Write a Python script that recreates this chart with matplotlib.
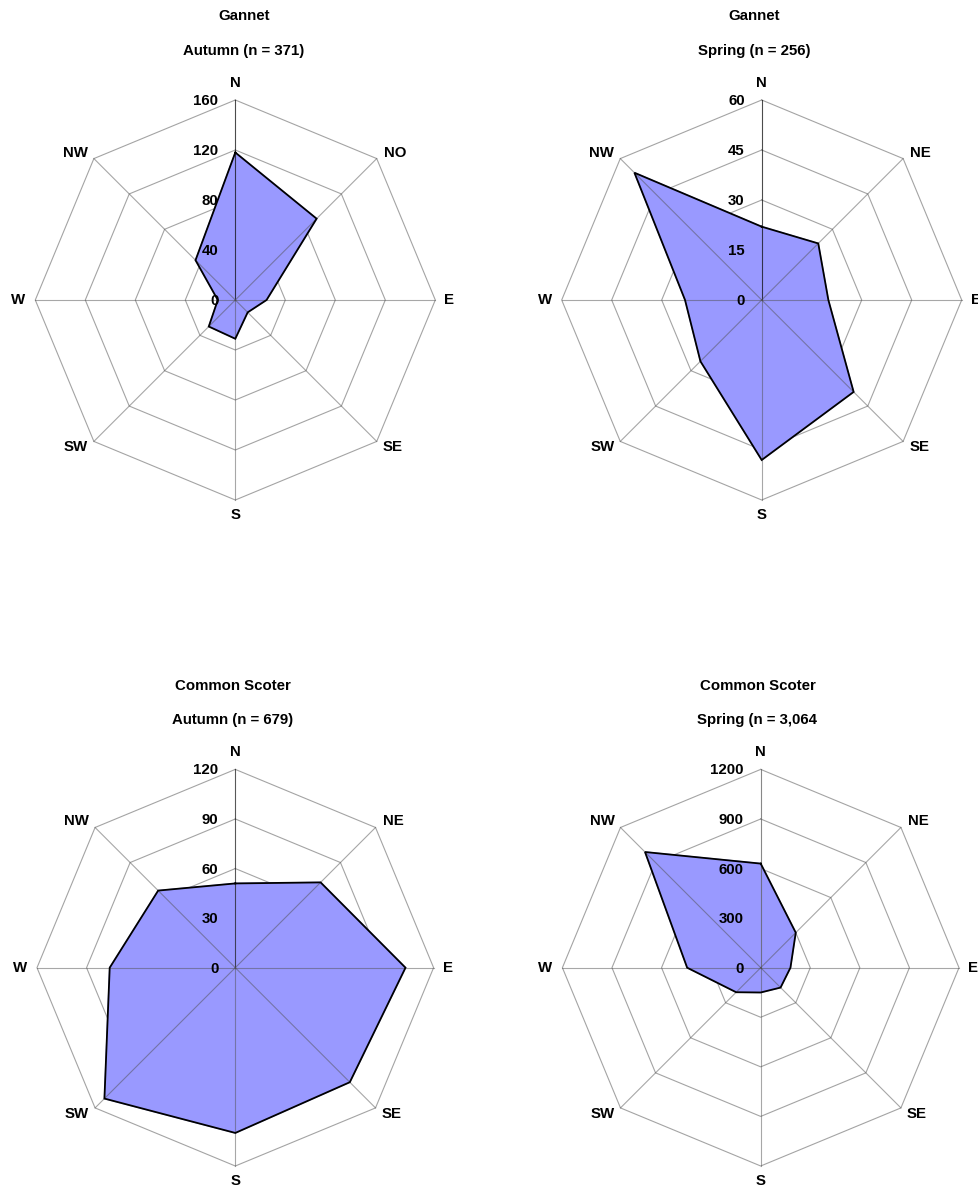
import numpy as np
import matplotlib
matplotlib.use("Agg")
import matplotlib.pyplot as plt

plt.rcParams['font.family'] = ['Liberation Sans', 'DejaVu Sans']

# Compass directions, clockwise from north
directions = ["N", "NE", "E", "SE", "S", "SW", "W", "NW"]
directions_gannet_autumn = ["N", "NO", "E", "SE", "S", "SW", "W", "NW"]

# Counts of birds per flight direction
gannet_autumn = [118, 92, 25, 14, 31, 30, 14, 45]
gannet_spring = [22, 24, 20, 39, 48, 26, 23, 54]
scoter_autumn = [51, 73, 103, 98, 100, 112, 76, 66]
scoter_spring = [630, 300, 180, 170, 150, 210, 445, 990]

# Radial scale ticks
ticks_gannet_autumn = [0, 40, 80, 120, 160]
ticks_gannet_spring = [0, 15, 30, 45, 60]
ticks_scoter_autumn = [0, 30, 60, 90, 120]
ticks_scoter_spring = [0, 300, 600, 900, 1200]

species = ["Gannet", "Gannet", "Common Scoter", "Common Scoter"]
seasons = ["Autumn (n = 371)", "Spring (n = 256)", "Autumn (n = 679)", "Spring (n = 3,064"]

W, H = 979, 1196
fig = plt.figure(figsize=(W / 100, H / 100), dpi=100)

panels = [
    dict(values=gannet_autumn, ticks=ticks_gannet_autumn, labels=directions_gannet_autumn,
         center=(235.3, 300.0), radius=200.0, title_x=244, title_y=(16, 51), axis_color="#101010"),
    dict(values=gannet_spring, ticks=ticks_gannet_spring, labels=directions,
         center=(761.7, 300.0), radius=200.0, title_x=754, title_y=(16, 51), axis_color="#101010"),
    dict(values=scoter_autumn, ticks=ticks_scoter_autumn, labels=directions,
         center=(235.3, 967.7), radius=198.3, title_x=232.5, title_y=(686, 720), axis_color="#202020"),
    dict(values=scoter_spring, ticks=ticks_scoter_spring, labels=directions,
         center=(760.7, 967.7), radius=198.3, title_x=757.5, title_y=(686, 720), axis_color="#606060"),
]

# Label offsets (pixels) from each outer vertex and their alignment
label_layout = [
    ((0, 17), "center", "center"),
    ((7, 6), "left", "center"),
    ((9, 0), "left", "center"),
    ((6, -6), "left", "center"),
    ((0, -15), "center", "center"),
    ((-6, -6), "right", "center"),
    ((-10, 0), "right", "center"),
    ((-6, 6), "right", "center"),
]

angles = np.deg2rad(90 - 45 * np.arange(8))
ux, uy = np.cos(angles), np.sin(angles)
FS = 10.8

for i, p in enumerate(panels):
    cx, cy = p["center"]
    R = p["radius"]
    ax = fig.add_axes([(cx - R) / W, 1 - (cy + R) / H, 2 * R / W, 2 * R / H])
    ax.set_xlim(-1, 1)
    ax.set_ylim(-1, 1)
    ax.set_aspect("equal")
    ax.axis("off")

    vmax = p["ticks"][-1]
    r = np.asarray(p["values"], dtype=float) / vmax
    px = np.append(r * ux, r[0] * ux[0])
    py = np.append(r * uy, r[0] * uy[0])

    # Octagonal rings, hidden under the filled area
    nt = len(p["ticks"]) - 1
    for k in range(1, nt + 1):
        f = k / nt
        ax.plot(np.append(f * ux, f * ux[0]), np.append(f * uy, f * uy[0]),
                color="#a4a4a4", lw=0.8, zorder=0, clip_on=False)

    ax.fill(px, py, color="#9999ff", zorder=1, clip_on=False)

    # Spokes, semi-transparent so they tint over the fill
    for j in range(8):
        if j == 0:
            ax.plot([0, ux[j]], [0, uy[j]], color=p["axis_color"], alpha=0.75, lw=0.8,
                    zorder=2, clip_on=False)
        else:
            ax.plot([0, ux[j]], [0, uy[j]], color="#505050", alpha=0.5, lw=0.8,
                    zorder=2, clip_on=False)

    ax.plot(px, py, color="black", lw=1.3, zorder=3, clip_on=False, solid_joinstyle="miter")

    # Radial tick labels along the north spoke
    for k, t in enumerate(p["ticks"]):
        ax.annotate(str(t), (0, k / nt), xytext=(-17, -1), textcoords="offset pixels",
                    ha="right", va="center", fontsize=FS, fontweight="bold", zorder=4,
                    annotation_clip=False)

    # Direction labels
    for j, lab in enumerate(p["labels"]):
        off, ha, va = label_layout[j]
        ax.annotate(lab, (ux[j], uy[j]), xytext=off, textcoords="offset pixels",
                    ha=ha, va=va, fontsize=FS, fontweight="bold", annotation_clip=False)

    fig.text(p["title_x"] / W, 1 - p["title_y"][0] / H, species[i], ha="center", va="center",
             fontsize=FS, fontweight="bold")
    fig.text(p["title_x"] / W, 1 - p["title_y"][1] / H, seasons[i], ha="center", va="center",
             fontsize=FS, fontweight="bold")

fig.savefig("out.png", dpi=100, facecolor="white")
